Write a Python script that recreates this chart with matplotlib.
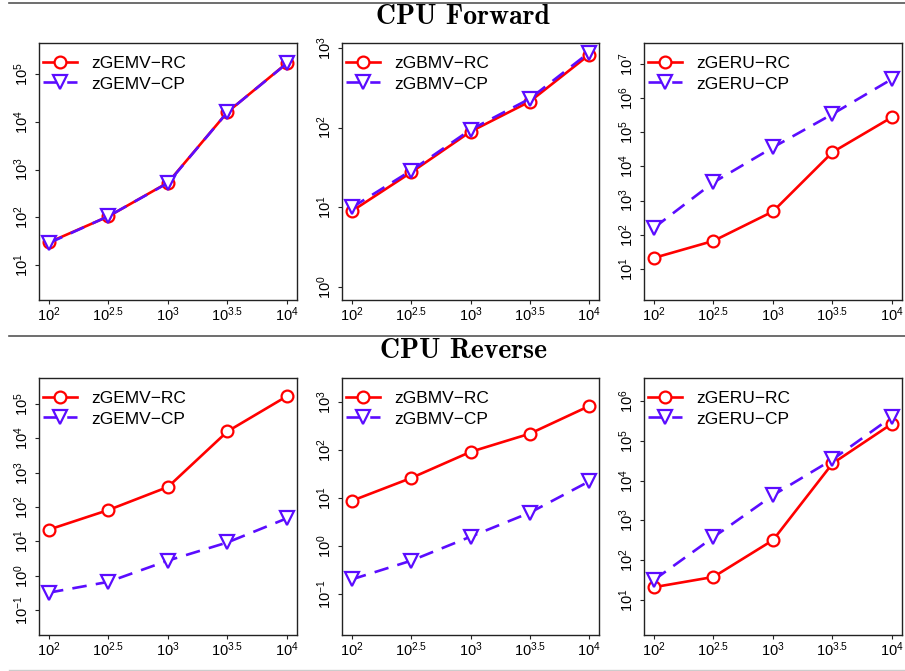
import numpy as np
import matplotlib
matplotlib.use("Agg")
import matplotlib.pyplot as plt
from matplotlib.lines import Line2D

plt.rcParams['font.family'] = ['Liberation Sans', 'DejaVu Sans']
plt.rcParams['mathtext.fontset'] = 'custom'
plt.rcParams['mathtext.rm'] = 'Liberation Sans'
plt.rcParams['mathtext.it'] = 'Liberation Sans:italic'
plt.rcParams['mathtext.bf'] = 'Liberation Sans:bold'

# matrix sizes (x axis)
sizes = [100, 316.2, 1000, 3162, 10000]
size_labels = ['$10^{2}$', '$10^{2.5}$', '$10^{3}$', '$10^{3.5}$', '$10^{4}$']

# CPU Forward
fwd_gemv_rc = [30, 105, 535, 16000, 170000]
fwd_gemv_cp = [29, 106, 525, 16000, 168000]
fwd_gbmv_rc = [9.0, 27.5, 89, 212, 815]
fwd_gbmv_cp = [10.0, 29, 94, 230, 870]
fwd_geru_rc = [21, 66, 480, 26000, 275000]
fwd_geru_cp = [160, 3400, 36000, 340000, 3600000]

# CPU Reverse
rev_gemv_rc = [22, 82, 385, 16000, 170000]
rev_gemv_cp = [0.32, 0.66, 2.75, 9.3, 47]
rev_gbmv_rc = [8.7, 26, 91, 218, 820]
rev_gbmv_cp = [0.20, 0.49, 1.55, 4.9, 22]
rev_geru_rc = [21, 38, 320, 27000, 270000]
rev_geru_cp = [32, 380, 4300, 34000, 400000]

panels = [
    ('zGEMV', fwd_gemv_rc, fwd_gemv_cp, (0.27, 5.65), range(1, 6)),
    ('zGBMV', fwd_gbmv_rc, fwd_gbmv_cp, (-0.16, 3.06), range(0, 4)),
    ('zGERU', fwd_geru_rc, fwd_geru_cp, (0.09, 7.61), range(1, 8)),
    ('zGEMV', rev_gemv_rc, rev_gemv_cp, (-1.73, 5.76), range(-1, 6)),
    ('zGBMV', rev_gbmv_rc, rev_gbmv_cp, (-1.86, 3.5), range(-1, 4)),
    ('zGERU', rev_geru_rc, rev_geru_cp, (0.12, 6.58), range(1, 7)),
]

W, H = 905, 671
fig = plt.figure(figsize=(W / 100, H / 100), dpi=100)

col_x = [39, 342, 644]
col_w = [258, 257, 258]
row_y = [43, 378]
row_h = 257

red = '#ff0000'
blue = '#5b0cff'

for i, (name, rc, cp, ylog, yexp) in enumerate(panels):
    r, c = divmod(i, 3)
    ax = fig.add_axes([col_x[c] / W, 1 - (row_y[r] + row_h) / H, col_w[c] / W, row_h / H])
    ax.plot(sizes, rc, color=red, lw=1.9, marker='o', ms=8.5, mfc='white',
            mec=red, mew=1.6, label=name + '\u2212RC')
    ax.plot(sizes, cp, color=blue, lw=1.9, ls=(0, (5.5, 3.5)), marker='v', ms=9.5,
            mfc='white', mec=blue, mew=1.6, label=name + '\u2212CP')
    ax.set_xscale('log')
    ax.set_yscale('log')
    ax.set_xlim(10 ** 1.916, 10 ** 4.084)
    ax.set_ylim(10 ** ylog[0], 10 ** ylog[1])
    ax.set_xticks(sizes)
    ax.set_xticklabels(size_labels)
    ax.minorticks_off()
    yt = [10.0 ** e for e in yexp]
    ax.set_yticks(yt)
    ax.set_yticklabels(['$10^{%d}$' % e for e in yexp], rotation=90, va='center')
    ax.tick_params(axis='both', length=3, width=0.8, labelsize=10.5, color='#222222')
    ax.tick_params(axis='x', pad=1)
    ax.tick_params(axis='y', pad=3)
    for s in ax.spines.values():
        s.set_color('#222222')
        s.set_linewidth(1.0)
    ax.legend(loc='upper left', bbox_to_anchor=(4 / col_w[c], 1 - 13 / row_h),
              frameon=False, fontsize=12.5, borderpad=0, borderaxespad=0,
              handlelength=1.95, handletextpad=0.85, labelspacing=0.3)

# section headers and rules
fig.text(463 / W, 1 - 17 / H, 'CPU Forward', fontname='cmb10', fontsize=20,
         ha='center', va='center')
fig.text(463 / W, 1 - 351 / H, 'CPU Reverse', fontname='cmb10', fontsize=20,
         ha='center', va='center')
fig.add_artist(Line2D([9 / W, 1], [1 - 3 / H] * 2, color='#555555', lw=1.2))
fig.add_artist(Line2D([9 / W, 1], [1 - 336 / H] * 2, color='#555555', lw=1.2))
fig.add_artist(Line2D([9 / W, 1], [1 - 670 / H] * 2, color='#cccccc', lw=1.0))

fig.savefig('out.png', dpi=100)
